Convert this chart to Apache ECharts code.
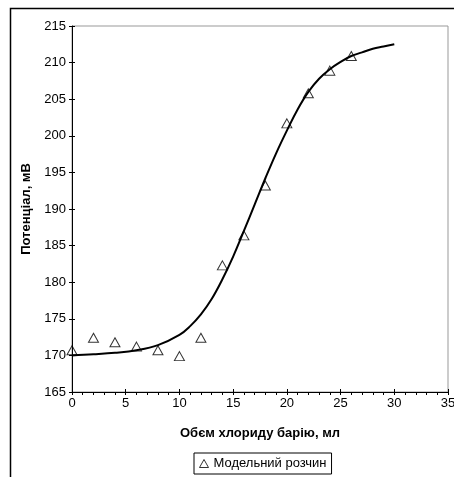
<!DOCTYPE html>
<html>
<head>
<meta charset="utf-8">
<script src="https://cdn.jsdelivr.net/npm/echarts@6/dist/echarts.min.js"></script>
<style>
html,body{margin:0;padding:0;background:#fff;}
#chart{width:454px;height:477px;}
</style>
</head>
<body>
<div id="chart"></div>
<script>
// Measured points (volume, mL ; potential, mV)
const pointX = [0, 2, 4, 6, 8, 10, 12, 14, 16, 18, 20, 22, 24, 26];
const pointY = [170.7, 172.4, 171.8, 171.2, 170.7, 169.9, 172.4, 182.3, 186.4, 193.2, 201.7, 205.8, 208.9, 210.9];

// Fitted curve
const curveX = [0, 2, 4, 6, 8, 10, 11, 12, 13, 14, 15, 16, 17, 18, 19, 20, 21, 22, 23, 24, 25, 26, 27, 28, 29, 30];
const curveY = [170.0, 170.15, 170.35, 170.7, 171.4, 172.8, 174.0, 175.6, 177.7, 180.4, 183.5, 187.0, 190.6, 194.2, 197.6, 200.7, 203.6, 206.0, 207.8, 209.1, 210.1, 210.9, 211.4, 211.9, 212.2, 212.5];

const xTicks = {min: 0, max: 35, interval: 5};
const yTicks = {min: 165, max: 215, interval: 5};

const seriesName = 'Модельний розчин';
const xName = 'Обєм хлориду барію, мл';
const yName = 'Потенціал, мВ';

const chart = echarts.init(document.getElementById('chart'), null, {renderer: 'canvas'});
const font = 'Liberation Sans, Arial, sans-serif';

chart.setOption({
  animation: false,
  backgroundColor: '#fff',
  textStyle: {fontFamily: font},
  graphic: [{
    type: 'rect', left: 8, top: 6, silent: true,
    shape: {width: 460, height: 490},
    style: {fill: 'none', stroke: '#000', lineWidth: 1.5}
  }],
  grid: {left: 72, top: 26, width: 376, height: 366, outerBoundsMode: 'none', containLabel: false,
         show: true, borderColor: '#999', borderWidth: 1, backgroundColor: 'transparent'},
  xAxis: [{
    type: 'value', min: xTicks.min, max: xTicks.max, interval: xTicks.interval, position: 'bottom',
    name: xName, nameLocation: 'middle', nameGap: 35,
    nameTextStyle: {fontFamily: font, fontSize: 13, fontWeight: 'bold', color: '#000'},
    axisLine: {show: true, onZero: false, lineStyle: {color: '#000', width: 1}},
    axisTick: {show: true, length: 3, lineStyle: {color: '#000'}},
    minorTick: {show: true, splitNumber: 5, length: 3, lineStyle: {color: '#000'}},
    splitLine: {show: false},
    axisLabel: {fontFamily: font, fontSize: 13, color: '#000', margin: 5}
  }, {
    type: 'value', min: xTicks.min, max: xTicks.max, interval: xTicks.interval, position: 'bottom',
    axisLine: {show: false}, axisLabel: {show: false}, splitLine: {show: false},
    axisTick: {show: true, inside: true, length: 3, lineStyle: {color: '#000'}}
  }],
  yAxis: [{
    type: 'value', min: yTicks.min, max: yTicks.max, interval: yTicks.interval, position: 'left',
    name: yName, nameLocation: 'middle', nameGap: 37, nameRotate: 90,
    nameTextStyle: {fontFamily: font, fontSize: 13, fontWeight: 'bold', color: '#000'},
    axisLine: {show: true, onZero: false, lineStyle: {color: '#000', width: 1}},
    axisTick: {show: true, length: 3, lineStyle: {color: '#000'}},
    splitLine: {show: false},
    axisLabel: {fontFamily: font, fontSize: 13, color: '#000', margin: 6}
  }, {
    type: 'value', min: yTicks.min, max: yTicks.max, interval: yTicks.interval, position: 'left',
    axisLine: {show: false}, axisLabel: {show: false}, splitLine: {show: false},
    axisTick: {show: true, inside: true, length: 3, lineStyle: {color: '#000'}}
  }],
  legend: {
    data: [{name: seriesName, icon: 'triangle'}],
    left: 194, top: 453,
    itemWidth: 9, itemHeight: 8, itemGap: 4,
    borderColor: '#000', borderWidth: 1, padding: [4, 5, 4, 5],
    textStyle: {fontFamily: font, fontSize: 13, color: '#000'},
    itemStyle: {color: 'transparent', borderColor: '#000', borderWidth: 1}
  },
  series: [
    {
      type: 'line', name: 'fit', smooth: 0.4, showSymbol: false, silent: true,
      data: curveX.map((x, i) => [x, curveY[i]]),
      lineStyle: {color: '#000', width: 2}, z: 2
    },
    {
      type: 'scatter', name: seriesName, symbol: 'triangle', symbolSize: [10, 9],
      data: pointX.map((x, i) => [x, pointY[i]]),
      itemStyle: {color: 'transparent', borderColor: '#000', borderWidth: 1}, z: 3
    }
  ]
});
</script>
</body>
</html>
